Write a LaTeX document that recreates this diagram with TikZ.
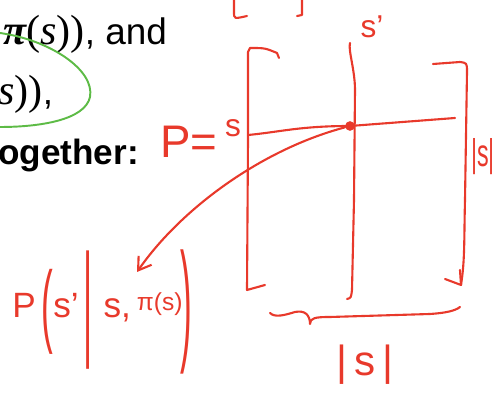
\documentclass[tikz,border=0pt]{standalone}
\usepackage{amsmath,amssymb}
\usepackage{fontspec}
\setmainfont{Liberation Sans}
\setsansfont{Liberation Sans}
\newfontfamily\slideserif{Liberation Serif}
\usetikzlibrary{positioning, arrows.meta, calc}
\definecolor{penred}{HTML}{E8392B}
\definecolor{pengreen}{HTML}{5DBB46}

\begin{document}
\begin{tikzpicture}[
    x=0.02cm, y=-0.02cm,
    ink/.style={draw=penred, line width=1.2pt, line cap=round, line join=round},
    loopmark/.style={draw=pengreen, line width=1.1pt, line cap=round},
    slide/.style={inner sep=0pt, anchor=base west, text=black},
    hand/.style={inner sep=0pt, text=penred},
    inkarrow/.style={ink, -{Straight Barb[length=7pt, width=9pt]}},
]
\useasboundingbox (0,0) rectangle (498,401);
\clip (0,0) rectangle (498,401);

% ── Slide text ───────────────────────────────────────────────────────────
\node[slide, font=\fontsize{21}{25}\selectfont] (line1) at (3,45)
    {{\slideserif\fontsize{24}{28}\selectfont{\bfseries\itshape π}(\textit{s}))}, and};
\node[slide, font=\fontsize{21}{25}\selectfont] (line2) at (-2,105)
    {{\slideserif\fontsize{24}{28}\selectfont\textit{s}))},};
\node[slide, font=\fontsize{20}{24}\selectfont\bfseries] (line3) at (-2,165) {ogether:};

% ── Green loop ───────────────────────────────────────────────────────────
\draw[loopmark] (0,33) .. controls (50,40) and (95,70) .. (90,97)
    .. controls (85,120) and (40,127) .. (0,127);

% ── Grid sketch ──────────────────────────────────────────────────────────
\draw[ink] (234,0) -- (234,12) .. controls (234,19) .. (247,16);
\draw[ink] (302,0) -- (302,15) -- (297,16);
\draw[ink] (279,58) -- (277,53) .. controls (265,48) .. (250,48) -- (248,52)
    -- (248,140) -- (247,290) -- (265,285);
\draw[ink] (350,43) .. controls (348,50) and (355,70) .. (355,90) -- (354,200)
    -- (352,290) .. controls (351,298) .. (347,299);
\draw[ink] (433,64) -- (460,62) .. controls (467,63) .. (467,72) -- (465,200)
    .. controls (464,240) and (465,260) .. (461,285);
\draw[ink] (445,279) -- (461,285) -- (460,270);
\draw[ink] (248,135) .. controls (280,132) and (300,126) .. (350,126) -- (455,118);
\node[circle, fill=penred, inner sep=0pt, minimum size=5.5pt] (cell) at (350,126) {};

% ── Labels ───────────────────────────────────────────────────────────────
\node[hand, anchor=base west, font=\fontsize{26}{28}\selectfont] (pstate) at (160,158)
    {P=\,\raisebox{12pt}{\fontsize{18}{20}\selectfont s}};
\node[hand, font=\fontsize{18}{20}\selectfont] (sprime) at (372,27) {s'};
\node[hand, font=\fontsize{22}{24}\selectfont] (rowcount) at (483,157)
    {\scalebox{0.6}[1]{|s|}};
\node[hand, font=\fontsize{24}{26}\selectfont] (colcount) at (365,365) {|\,s\,|};

% ── Bottom brace ─────────────────────────────────────────────────────────
\draw[ink] (270,313) .. controls (275,318) and (285,315) .. (295,312)
    .. controls (305,310) and (310,315) .. (310,324)
    .. controls (310,318) and (315,317) .. (330,317) -- (430,314)
    .. controls (445,313) and (455,311) .. (460,307);

% ── Transition probability ───────────────────────────────────────────────
\node[hand, anchor=base west, font=\fontsize{20}{22}\selectfont] (pcond) at (12,318)
    {P\,\raisebox{-10pt}{\scalebox{1}[2.6]{(}}s'\hspace{3pt}\raisebox{-14pt}{\scalebox{1}[3.6]{|}}\hspace{6pt}s,\,{\fontsize{14}{16}\selectfont\raisebox{4pt}{π(s)}}\hspace{-1pt}\raisebox{-16pt}{\scalebox{1}[3.8]{)}}};
\coordinate (tip) at (137,272);
\draw[inkarrow] (cell) .. controls (260,150) and (180,210) .. (tip);

\end{tikzpicture}
\end{document}
